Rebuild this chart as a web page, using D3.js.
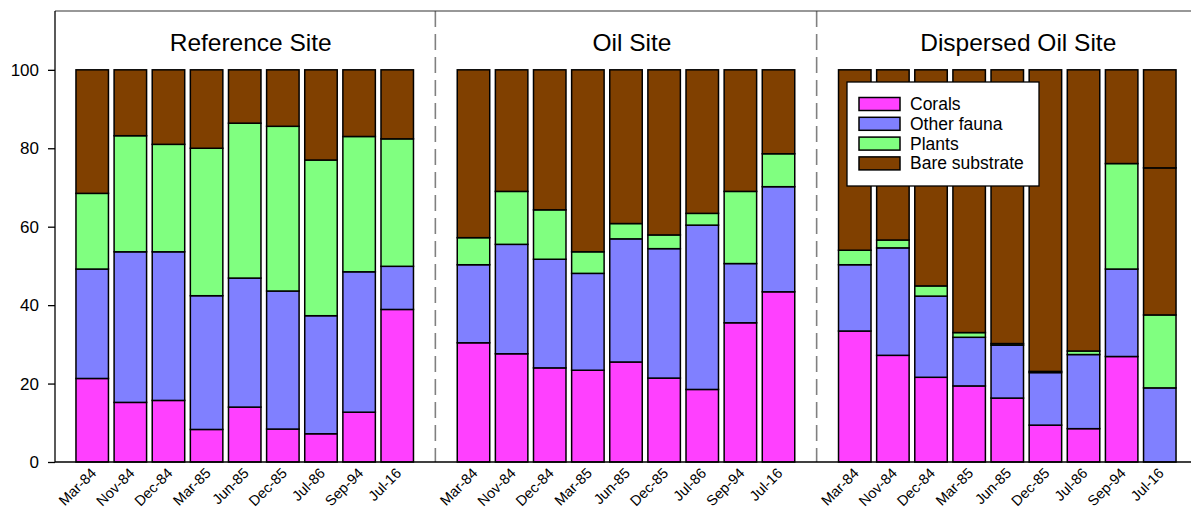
<!DOCTYPE html>
<html>
<head>
<meta charset="utf-8">
<script src="https://cdn.jsdelivr.net/npm/d3@7"></script>
<style>
  html, body { margin: 0; padding: 0; background: #fff; }
  svg { display: block; font-family: "Liberation Sans", Arial, sans-serif; }
</style>
</head>
<body>
<svg id="chart" width="1191" height="508"></svg>
<script>
// Sampling dates (same for each site)
const dates = ["Mar-84", "Nov-84", "Dec-84", "Mar-85", "Jun-85", "Dec-85", "Jul-86", "Sep-94", "Jul-16"];
const sites = ["Reference Site", "Oil Site", "Dispersed Oil Site"];

// Percent cover per site, in date order
const coralsRef   = [21.3, 15.2, 15.7,  8.3, 14.0,  8.4,  7.2, 12.7, 38.9];
const faunaRef    = [27.9, 38.4, 37.9, 34.1, 32.9, 35.2, 30.1, 35.8, 11.0];
const plantsRef   = [19.3, 29.6, 27.4, 37.6, 39.5, 42.0, 39.7, 34.5, 32.5];
const bareRef     = [31.5, 16.8, 19.0, 20.0, 13.6, 14.4, 23.0, 17.0, 17.6];
const rubbleRef   = [0, 0, 0, 0, 0, 0, 0, 0, 0];

const coralsOil   = [30.4, 27.6, 24.0, 23.4, 25.5, 21.4, 18.5, 35.5, 43.4];
const faunaOil    = [19.9, 27.9, 27.7, 24.7, 31.4, 33.0, 41.9, 15.1, 26.8];
const plantsOil   = [ 6.9, 13.5, 12.6,  5.5,  3.9,  3.5,  3.0, 18.4,  8.4];
const bareOil     = [42.8, 31.0, 35.7, 46.4, 39.2, 42.1, 36.6, 31.0, 21.4];
const rubbleOil   = [0, 0, 0, 0, 0, 0, 0, 0, 0];

const coralsDisp  = [33.4, 27.2, 21.6, 19.4, 16.3,  9.4,  8.5, 26.9,  0.0];
const faunaDisp   = [16.9, 27.4, 20.7, 12.4, 13.5, 13.4, 18.9, 22.3, 18.9];
const plantsDisp  = [ 3.7,  2.0,  2.6,  1.2,  0.4,  0.3,  0.9, 26.9, 18.6];
const bareDisp    = [46.0, 43.4, 55.1, 67.0, 69.8, 76.9, 71.7, 23.9, 37.5];
const rubbleDisp  = [0, 0, 0, 0, 0, 0, 0, 0, 25.0];

const seriesKeys   = ["Corals", "Other fauna", "Plants", "Bare substrate", "Bare substrate (2)"];
const legendLabels = ["Corals", "Other fauna", "Plants", "Bare substrate"];
const seriesColors = ["#ff40ff", "#8080ff", "#80ff80", "#804000", "#804000"];
const yTicks = [0, 20, 40, 60, 80, 100];

const siteSeries = [
  [coralsRef, faunaRef, plantsRef, bareRef, rubbleRef],
  [coralsOil, faunaOil, plantsOil, bareOil, rubbleOil],
  [coralsDisp, faunaDisp, plantsDisp, bareDisp, rubbleDisp]
];

// Build one row per bar; empty slots separate the sites
const rows = [];
const slots = [];
sites.forEach((site, si) => {
  dates.forEach((d, di) => {
    const key = site + "|" + d;
    const row = { key, date: d, site };
    seriesKeys.forEach((s, k) => { row[s] = siteSeries[si][k][di]; });
    rows.push(row);
    slots.push(key);
  });
  if (si < sites.length - 1) slots.push("sep" + si);
});

const svg = d3.select("#chart");
const plotLeft = 55, plotRight = 1197, plotTop = 11, plotBottom = 462;

const x = d3.scaleBand().domain(slots).range([plotLeft, plotRight])
  .paddingInner(0.148).paddingOuter(0.55);
const y = d3.scaleLinear().domain([0, 115]).range([plotBottom, plotTop]);
const color = d3.scaleOrdinal().domain(seriesKeys).range(seriesColors);

const stacked = d3.stack().keys(seriesKeys)(rows);

// Bars
svg.append("g").selectAll("g").data(stacked).join("g")
  .attr("fill", d => color(d.key))
  .selectAll("rect").data(d => d.filter(p => p[1] > p[0])).join("rect")
  .attr("x", d => x(d.data.key))
  .attr("width", x.bandwidth())
  .attr("y", d => y(d[1]))
  .attr("height", d => y(d[0]) - y(d[1]))
  .attr("stroke", "#000")
  .attr("stroke-width", 1.5);

// Dashed separators between the sites
svg.append("g").selectAll("line").data(slots.filter(s => s.startsWith("sep"))).join("line")
  .attr("x1", d => x(d) + x.bandwidth() / 2)
  .attr("x2", d => x(d) + x.bandwidth() / 2)
  .attr("y1", plotTop).attr("y2", plotBottom)
  .attr("stroke", "#808080").attr("stroke-width", 1.6)
  .attr("stroke-dasharray", "16,7");

// Frame: top edge, left axis, baseline
svg.append("line").attr("x1", plotLeft).attr("x2", 1191).attr("y1", plotTop).attr("y2", plotTop)
  .attr("stroke", "#333").attr("stroke-width", 1.2);

const yAxis = d3.axisLeft(y).tickValues(yTicks).tickSize(7).tickPadding(9);
const yG = svg.append("g").attr("transform", `translate(${plotLeft},0)`).call(yAxis);
yG.select(".domain").remove();
yG.selectAll(".tick line").attr("stroke", "#000").attr("stroke-width", 1.3);
yG.selectAll(".tick text").attr("font-size", 17).attr("fill", "#000")
  .attr("font-family", "Liberation Sans, Arial, sans-serif");
svg.append("line").attr("x1", plotLeft).attr("x2", plotLeft).attr("y1", plotTop).attr("y2", plotBottom)
  .attr("stroke", "#000").attr("stroke-width", 1.3);
svg.append("line").attr("x1", plotLeft).attr("x2", 1191).attr("y1", plotBottom).attr("y2", plotBottom)
  .attr("stroke", "#000").attr("stroke-width", 1.5);

// Date labels under each bar
const xAxis = d3.axisBottom(x).tickValues(rows.map(r => r.key)).tickSize(0).tickFormat(k => k.split("|")[1]);
const xG = svg.append("g").attr("transform", `translate(0,${plotBottom})`).call(xAxis);
xG.select(".domain").remove();
xG.selectAll(".tick text")
  .attr("font-size", 14.5).attr("fill", "#000")
  .attr("font-family", "Liberation Sans, Arial, sans-serif")
  .attr("text-anchor", "end")
  .attr("dy", null).attr("y", 0)
  .attr("transform", "translate(5,12) rotate(-45)");

// Site titles
const titleNudge = [6, 6, 11];
svg.append("g").selectAll("text").data(sites).join("text")
  .attr("x", (s, i) => {
    const first = x(s + "|" + dates[0]);
    const last = x(s + "|" + dates[dates.length - 1]) + x.bandwidth();
    return (first + last) / 2 + titleNudge[i];
  })
  .attr("y", 51)
  .attr("text-anchor", "middle")
  .attr("font-size", 24.5)
  .attr("fill", "#000")
  .text(s => s);

// Legend
const lg = svg.append("g").attr("transform", "translate(847,82)");
lg.append("rect").attr("width", 192).attr("height", 104)
  .attr("fill", "#fff").attr("stroke", "#000").attr("stroke-width", 1.3);
const items = lg.selectAll("g").data(legendLabels).join("g")
  .attr("transform", (d, i) => `translate(12,${22 + i * 19.8})`);
items.append("rect").attr("y", -6.5).attr("width", 41).attr("height", 13)
  .attr("fill", (d, i) => seriesColors[i]).attr("stroke", "#000").attr("stroke-width", 1.5);
items.append("text").attr("x", 51).attr("y", 6).attr("font-size", 17.5).attr("fill", "#000")
  .text(d => d);
</script>
</body>
</html>
